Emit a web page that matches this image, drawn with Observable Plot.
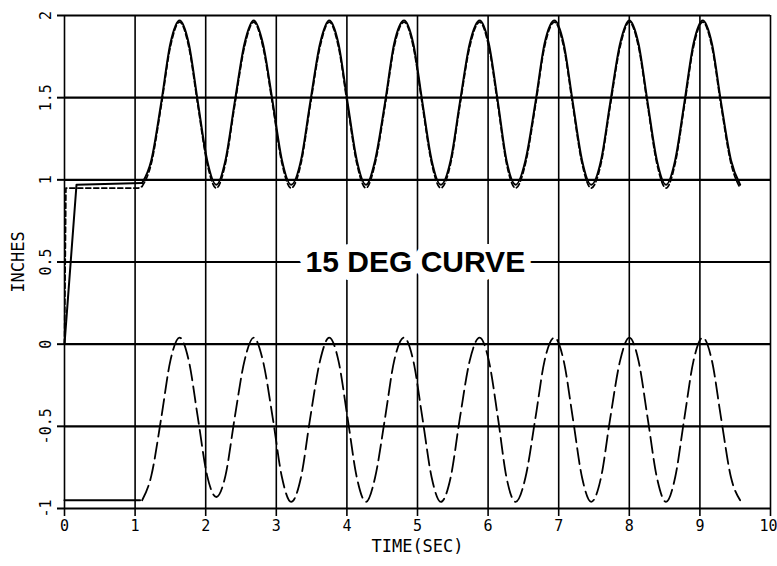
<!DOCTYPE html>
<html>
<head>
<meta charset="utf-8">
<script src="https://cdn.jsdelivr.net/npm/d3@7"></script>
<script src="https://cdn.jsdelivr.net/npm/@observablehq/plot@0.6"></script>
<style>
  html, body { margin: 0; padding: 0; background: #fff; }
  #chart { width: 777px; height: 566px; }
</style>
</head>
<body>
<div id="chart"></div>
<script>
// ---- tick values ----
const xTicks = [0, 1, 2, 3, 4, 5, 6, 7, 8, 9, 10];
const xTickLabels = ["0", "1", "2", "3", "4", "5", "6", "7", "8", "9", "10"];
const yTicks = [-1, -0.5, 0, 0.5, 1, 1.5, 2];
const yTickLabels = ["-1", "-0.5", "0", "0.5", "1", "1.5", "2"];

// ---- time grid of the oscillation (sec) ----
const cycleT = [1.10,
  1.23,1.37,1.50,1.63,1.76,1.89,2.02,2.15,
  2.28,2.41,2.55,2.68,2.81,2.95,3.08,3.21,
  3.35,3.48,3.62,3.75,3.88,4.01,4.14,4.27,
  4.40,4.54,4.67,4.81,4.94,5.07,5.20,5.33,
  5.47,5.60,5.74,5.88,6.01,6.14,6.26,6.39,
  6.53,6.67,6.80,6.94,7.07,7.20,7.33,7.46,
  7.60,7.73,7.87,8.00,8.13,8.26,8.39,8.52,
  8.65,8.78,8.91,9.04,9.17,9.30,9.44,9.57];

// upper solid curve (inches)
const upperSolidStartT = [0, 0.17];
const upperSolidStartY = [0, 0.97];
const upperSolidY = [0.98,
  1.12,1.47,1.83,1.97,1.83,1.47,1.12,0.97,
  1.12,1.47,1.83,1.97,1.83,1.47,1.12,0.97,
  1.12,1.47,1.83,1.97,1.83,1.47,1.12,0.97,
  1.12,1.47,1.83,1.97,1.83,1.47,1.12,0.97,
  1.12,1.47,1.83,1.97,1.83,1.47,1.12,0.97,
  1.12,1.47,1.83,1.97,1.83,1.47,1.12,0.97,
  1.12,1.47,1.83,1.97,1.83,1.47,1.12,0.97,
  1.12,1.47,1.83,1.97,1.83,1.47,1.12,0.97];

// upper dashed curve (inches)
const upperDashStartT = [0, 0.02, 1.05];
const upperDashStartY = [0, 0.95, 0.95];
const upperDashY = [0.96,
  1.10,1.45,1.81,1.96,1.81,1.45,1.10,0.95,
  1.10,1.45,1.81,1.96,1.81,1.45,1.10,0.95,
  1.10,1.45,1.81,1.96,1.81,1.45,1.10,0.95,
  1.10,1.45,1.81,1.96,1.81,1.45,1.10,0.95,
  1.10,1.45,1.81,1.96,1.81,1.45,1.10,0.95,
  1.10,1.45,1.81,1.96,1.81,1.45,1.10,0.95,
  1.10,1.45,1.81,1.96,1.81,1.45,1.10,0.95,
  1.10,1.45,1.81,1.96,1.81,1.45,1.10,0.95];

// lower flat solid segment
const lowerFlatT = [0, 1.07];
const lowerFlatY = [-0.95, -0.95];

// lower dashed curve (inches)
const lowerDashY = [-0.95,
  -0.80,-0.45,-0.10,0.04,-0.10,-0.45,-0.80,-0.93,
  -0.80,-0.45,-0.10,0.04,-0.10,-0.45,-0.81,-0.96,
  -0.81,-0.45,-0.10,0.04,-0.10,-0.45,-0.81,-0.96,
  -0.81,-0.45,-0.10,0.04,-0.10,-0.45,-0.81,-0.96,
  -0.81,-0.45,-0.10,0.04,-0.10,-0.45,-0.81,-0.96,
  -0.81,-0.45,-0.10,0.04,-0.10,-0.45,-0.81,-0.96,
  -0.81,-0.45,-0.10,0.04,-0.10,-0.45,-0.81,-0.96,
  -0.81,-0.45,-0.10,0.04,-0.10,-0.45,-0.81,-0.95];

// annotation
const annotationText = "15 DEG CURVE";
const annotationX = 4.97;
const annotationY = 0.5;

// ---- build tables ----
const zip = (ts, ys) => ts.map((t, i) => ({t, y: ys[i]}));
const upperSolidStart = zip(upperSolidStartT.concat([cycleT[0]]), upperSolidStartY.concat([upperSolidY[0]]));
const upperSolid = zip(cycleT, upperSolidY);
const upperDashStart = zip(upperDashStartT.concat([cycleT[0]]), upperDashStartY.concat([upperDashY[0]]));
const upperDash = zip(cycleT, upperDashY);
const lowerFlat = zip(lowerFlatT, lowerFlatY);
const lowerDash = zip(cycleT, lowerDashY);
const xLabelRows = xTicks.map((x, i) => ({x, label: xTickLabels[i], last: i === xTicks.length - 1}));

const mono = "'DejaVu Sans Mono', monospace";

const chart = Plot.plot({
  width: 777,
  height: 566,
  marginLeft: 64,
  marginRight: 7,
  marginTop: 15,
  marginBottom: 58,
  style: {background: "#fff", color: "#000", fontFamily: mono, fontSize: "15px"},
  x: {domain: [0, 10]},
  y: {domain: [-1, 2]},
  marks: [
    // grid lines
    Plot.ruleX(xTicks, {x: d => d, stroke: "#000", strokeWidth: 1.6}),
    Plot.ruleY(yTicks, {y: d => d, stroke: "#000", strokeWidth: 2.2}),
    // x axis ticks and title
    Plot.axisX({ticks: xTicks, tickSize: 8, strokeWidth: 1.6, tickFormat: () => "", fontSize: 17,
      label: "TIME(SEC)", labelAnchor: "center", labelArrow: "none", labelOffset: 43}),
    Plot.text(xLabelRows.filter(d => !d.last), {x: "x", frameAnchor: "bottom", dy: 18, text: "label",
      fontSize: 15, fontFamily: mono, textAnchor: "middle", lineAnchor: "middle"}),
    Plot.text(xLabelRows.filter(d => d.last), {x: "x", frameAnchor: "bottom", dy: 18, dx: 7, text: "label",
      fontSize: 15, fontFamily: mono, textAnchor: "end", lineAnchor: "middle"}),
    // y axis ticks, labels and title
    Plot.axisY({ticks: yTicks, tickSize: 7, strokeWidth: 2, tickFormat: () => "", fontSize: 17,
      label: "INCHES", labelAnchor: "center", labelArrow: "none", labelOffset: 53}),
    Plot.text(yTicks, {y: d => d, frameAnchor: "left", dx: -18, rotate: -90,
      text: (d, i) => yTickLabels[i], fontSize: 15, fontFamily: mono, textAnchor: "middle", lineAnchor: "middle"}),
    // curves
    Plot.line(upperSolidStart, {x: "t", y: "y", stroke: "#000", strokeWidth: 2}),
    Plot.line(upperSolid, {x: "t", y: "y", stroke: "#000", strokeWidth: 2, curve: "monotone-x"}),
    Plot.line(upperDashStart, {x: "t", y: "y", stroke: "#000", strokeWidth: 1.7, strokeDasharray: "5,3"}),
    Plot.line(upperDash, {x: "t", y: "y", stroke: "#000", strokeWidth: 1.7, strokeDasharray: "5,3", curve: "monotone-x"}),
    Plot.line(lowerFlat, {x: "t", y: "y", stroke: "#000", strokeWidth: 2}),
    Plot.line(lowerDash, {x: "t", y: "y", stroke: "#000", strokeWidth: 1.8, strokeDasharray: "16,6", curve: "monotone-x"}),
    // annotation
    Plot.text([annotationText], {x: annotationX, y: annotationY, text: d => d,
      fontFamily: "'Liberation Sans', Arial, sans-serif", fontWeight: "bold", fontSize: 30,
      fill: "#000", stroke: "#fff", strokeWidth: 16, lineAnchor: "middle", textAnchor: "middle"})
  ]
});
document.getElementById("chart").appendChild(chart);
</script>
</body>
</html>
